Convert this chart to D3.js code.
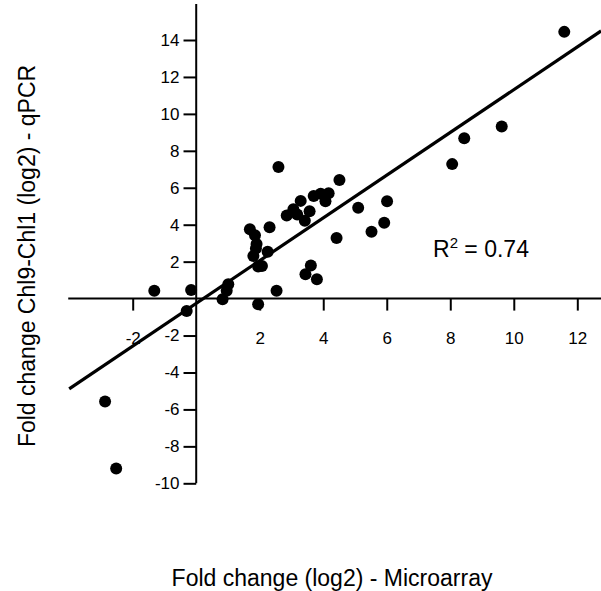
<!DOCTYPE html>
<html>
<head>
<meta charset="utf-8">
<script src="https://cdn.jsdelivr.net/npm/d3@7"></script>
<style>
  html, body { margin: 0; padding: 0; background: #fff; }
  svg { display: block; font-family: "Liberation Sans", Arial, sans-serif; }
</style>
</head>
<body>
<svg id="chart" width="601" height="591"></svg>
<script>
// Microarray fold change (log2)
const microarray = [-2.87, -2.52, -1.32, -0.16, -0.30, 0.83, 0.96, 1.01, 1.95, 2.53,
  1.69, 1.85, 1.90, 1.88, 1.80, 1.95, 2.07, 2.25, 2.31, 2.59,
  2.85, 3.06, 3.18, 3.29, 3.42, 3.57, 3.70, 3.92, 4.17, 4.07,
  4.51, 4.42, 5.10, 6.01, 5.92, 5.52, 3.44, 3.61, 3.80, 8.06,
  8.44, 9.62, 11.59];
// qPCR fold change Chl9-Chl1 (log2)
const qpcr = [-5.57, -9.20, 0.42, 0.47, -0.67, -0.03, 0.42, 0.78, -0.30, 0.42,
  3.76, 3.43, 2.95, 2.71, 2.31, 1.74, 1.77, 2.53, 3.86, 7.12,
  4.50, 4.84, 4.55, 5.29, 4.21, 4.73, 5.56, 5.67, 5.70, 5.27,
  6.42, 3.28, 4.92, 5.27, 4.10, 3.62, 1.32, 1.79, 1.05, 7.28,
  8.68, 9.32, 14.44];
const xTicks = [-2, 2, 4, 6, 8, 10, 12];
const yTicks = [-10, -8, -6, -4, -2, 2, 4, 6, 8, 10, 12, 14];
const fitSlope = 1.157, fitIntercept = -0.26;
const fitRange = [-4.0, 12.75];
const r2Label = "0.74";
const xTitle = "Fold change (log2) - Microarray";
const yTitle = "Fold change Chl9-Chl1 (log2) - qPCR";

const svg = d3.select("#chart");
const x = d3.scaleLinear().domain([-2, 12]).range([132.7, 577.3]);
const y = d3.scaleLinear().domain([-10, 14]).range([483.3, 40.0]);
const fmt = d => String(d);
const tickFont = "17px";

// axes lines through the origin
const xAxis = d3.axisBottom(x).tickValues(xTicks).tickSize(12).tickPadding(21.5).tickFormat(fmt);
const gx = svg.append("g").attr("transform", `translate(0,${y(0)})`).call(xAxis);
gx.select(".domain").remove();
gx.append("line").attr("x1", x(-4.03)).attr("x2", 601).attr("stroke", "#000").attr("stroke-width", 2);
gx.selectAll(".tick line").attr("stroke", "#000").attr("stroke-width", 2);
gx.selectAll(".tick text").style("font-size", tickFont).attr("fill", "#000")
  .style("font-family", "'Liberation Sans', Arial, sans-serif");

const yAxis = d3.axisLeft(y).tickValues(yTicks).tickSize(12.7).tickPadding(4).tickFormat(fmt);
const gy = svg.append("g").attr("transform", `translate(${x(0)},0)`).call(yAxis);
gy.select(".domain").remove();
gy.append("line").attr("y1", y(15.95)).attr("y2", y(-10)).attr("stroke", "#000").attr("stroke-width", 2);
gy.selectAll(".tick line").attr("stroke", "#000").attr("stroke-width", 2);
gy.selectAll(".tick text").style("font-size", tickFont).attr("fill", "#000")
  .style("font-family", "'Liberation Sans', Arial, sans-serif");

// regression line
svg.append("line")
  .attr("x1", x(fitRange[0])).attr("y1", y(fitSlope * fitRange[0] + fitIntercept))
  .attr("x2", x(fitRange[1])).attr("y2", y(fitSlope * fitRange[1] + fitIntercept))
  .attr("stroke", "#000").attr("stroke-width", 3.2);

// points
svg.append("g").selectAll("circle")
  .data(microarray.map((m, i) => [m, qpcr[i]]))
  .join("circle")
  .attr("cx", d => x(d[0])).attr("cy", d => y(d[1]))
  .attr("r", 6).attr("fill", "#000");

// R² label
const r2 = svg.append("text").attr("x", 433).attr("y", 256.5).style("font-size", "23px").attr("fill", "#000");
r2.append("tspan").text("R");
r2.append("tspan").attr("dy", -9).style("font-size", "15px").text("2");
r2.append("tspan").attr("dy", 9).text(" = " + r2Label);

// axis titles
svg.append("text").attr("x", 332).attr("y", 586).attr("text-anchor", "middle")
  .style("font-size", "23px").attr("fill", "#000").text(xTitle);
svg.append("text").attr("transform", "translate(35,256) rotate(-90)").attr("text-anchor", "middle")
  .style("font-size", "23px").attr("fill", "#000").text(yTitle);
</script>
</body>
</html>
